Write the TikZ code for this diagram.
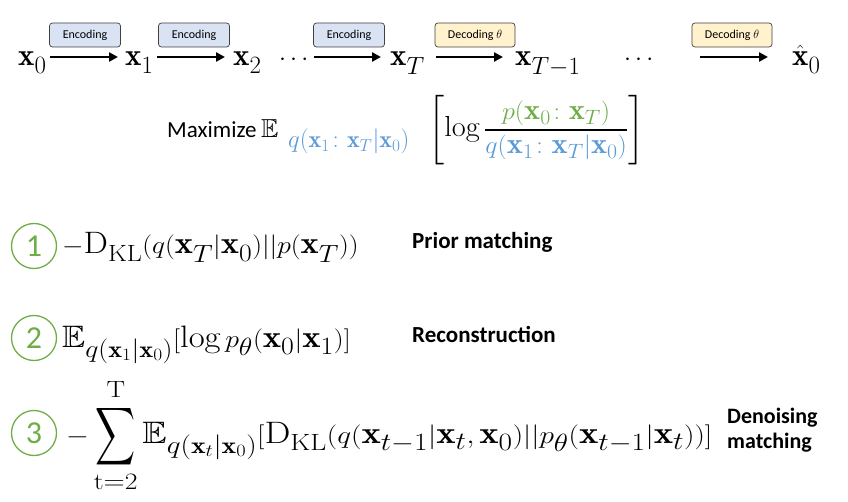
\documentclass[tikz,border=0pt]{standalone}
\usepackage{amsmath,amssymb}
\usepackage{graphicx}
\usepackage{fontspec}
\newfontfamily\carl{Carlito}
\usetikzlibrary{arrows.meta}
\DeclareMathSizes{31}{31}{23.5}{18}
\DeclareMathSizes{29}{29}{22}{16}
\DeclareMathSizes{24}{24}{18}{14}
\definecolor{encfill}{HTML}{DAE3F3}
\definecolor{decfill}{HTML}{FFF2CC}
\definecolor{boxline}{HTML}{404040}
\definecolor{mygreen}{HTML}{70AD47}
\definecolor{myblue}{HTML}{5B9BD5}
\newcommand{\bigsum}{\mathop{\vcenter{\hbox{\scalebox{0.76}[1.3]{$\displaystyle\sum$}}}}\limits}
\begin{document}
\begin{tikzpicture}[x=1pt,y=-1pt,
  big/.style={font=\fontsize{31}{36}\selectfont, inner sep=0, anchor=base west},
  frm/.style={font=\fontsize{31}{36}\selectfont, inner sep=0, anchor=base west},
  lab/.style={font=\carl\bfseries\fontsize{23}{27}\selectfont, inner sep=0, anchor=base west},
  enc/.style={draw=boxline, fill=encfill, rounded corners=3pt, line width=0.7pt,
     minimum width=71pt, minimum height=24pt, inner sep=0, font=\carl\fontsize{12}{14}\selectfont},
  dec/.style={enc, fill=decfill, minimum width=80pt},
  arr/.style={line width=2.6pt, -{Triangle[length=9pt,width=9pt]}},
  num/.style={circle, draw=mygreen, line width=1.3pt, minimum size=45pt, inner sep=0,
     text=mygreen, font=\carl\fontsize{32}{36}\selectfont}]
\useasboundingbox (0,0) rectangle (848,502);

% top chain
\node[big] (x0) at (18,66) {$\mathbf{x}_0$};
\node[big] (x1) at (125,66) {$\mathbf{x}_1$};
\node[big] (x2) at (233,66) {$\mathbf{x}_2$};
\node[big] (d1) at (279,66) {$\cdots$};
\node[big] (xT) at (390,66) {$\mathbf{x}_T$};
\node[big] (xT1) at (515,66) {$\mathbf{x}_{T-1}$};
\node[big] (d2) at (624,66) {$\cdots$};
\node[big] (xh) at (792,66) {$\hat{\mathbf{x}}_0$};

\coordinate (a1s) at (50,57); \coordinate (a1e) at (118,57);
\coordinate (a2s) at (157,57); \coordinate (a2e) at (225,57);
\coordinate (a3s) at (314,57); \coordinate (a3e) at (381,57);
\coordinate (a4s) at (436,57); \coordinate (a4e) at (503,57);
\coordinate (a5s) at (700,57); \coordinate (a5e) at (768,57);
\draw[arr] (a1s) -- (a1e);
\draw[arr] (a2s) -- (a2e);
\draw[arr] (a3s) -- (a3e);
\draw[arr] (a4s) -- (a4e);
\draw[arr] (a5s) -- (a5e);

\node[enc] (e1) at (85,35) {Encoding};
\node[enc] (e2) at (194,35) {Encoding};
\node[enc] (e3) at (349,35) {Encoding};
\node[dec] (c1) at (475,35) {Decoding $\theta$};
\node[dec] (c2) at (732,35) {Decoding $\theta$};

% maximize line
\node[font=\carl\fontsize{23}{27}\selectfont, inner sep=0, anchor=base west] (max) at (167,138) {Maximize};
\node[font=\fontsize{26}{30}\selectfont, inner sep=0, anchor=base west] (EE) at (261,138) {$\mathbb{E}$};
\node[font=\fontsize{24}{28}\selectfont, inner sep=0, anchor=base west, text=myblue] (Esub) at (288,148) {$q(\mathbf{x}_1\colon\mathbf{x}_T|\mathbf{x}_0)$};
\node[font=\fontsize{29}{34}\selectfont, inner sep=0, anchor=west] (frac) at (428,130)
  {\scalebox{1.05}[1]{$\left[\log\dfrac{\textcolor{mygreen}{p(\mathbf{x}_0\colon\mathbf{x}_T)}}{\textcolor{myblue}{q(\mathbf{x}_1\colon\mathbf{x}_T|\mathbf{x}_0)}}\right]$}};

% item 1
\node[num] (n1) at (34,246) {1};
\node[frm] (f1) at (62,254) {\scalebox{1.11}[1]{$-\mathrm{D}_{\mathrm{KL}}(q(\mathbf{x}_T|\mathbf{x}_0)||p(\mathbf{x}_T))$}};
\node[lab] (l1) at (412,249) {Prior matching};

% item 2
\node[num] (n2) at (34,338) {2};
\node[frm] (f2) at (62,347) {\scalebox{1.12}[1]{$\mathbb{E}_{q(\mathbf{x}_1|\mathbf{x}_0)}[\log p_\theta(\mathbf{x}_0|\mathbf{x}_1)]$}};
\node[lab] (l2) at (412,342) {Reconstruction};

% item 3
\node[num] (n3) at (34,433) {3};
\node[frm] (f3) at (66,443) {\scalebox{1.18}[1]{$-\bigsum_{\mathrm{t=2}}^{\mathrm{T}\rule[-4pt]{0pt}{4pt}}\mathbb{E}_{q(\mathbf{x}_t|\mathbf{x}_0)}[\mathrm{D}_{\mathrm{KL}}(q(\mathbf{x}_{t-1}|\mathbf{x}_t,\mathbf{x}_0)||p_\theta(\mathbf{x}_{t-1}|\mathbf{x}_t))]$}};
\node[lab, align=left, anchor=west, font=\carl\bfseries\fontsize{22}{25}\selectfont] (l3) at (727,430) {Denoising\\matching};
\end{tikzpicture}
\end{document}
